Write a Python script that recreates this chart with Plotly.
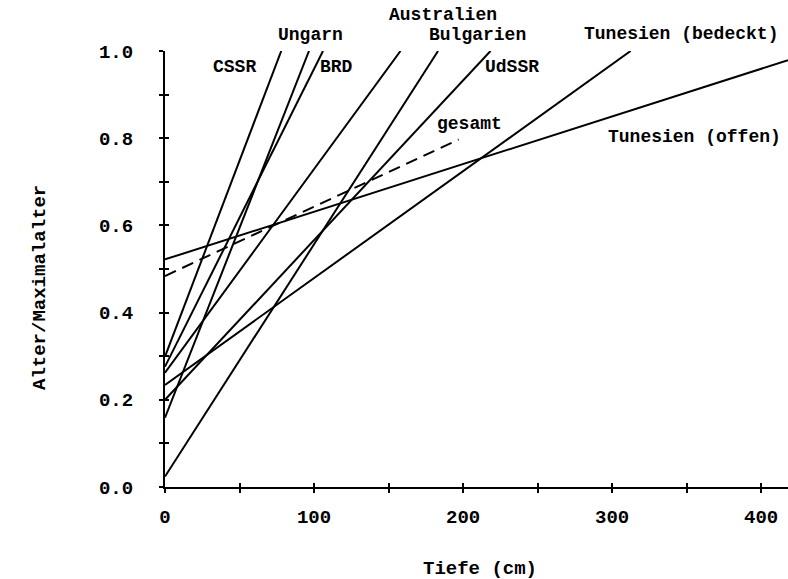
import plotly.graph_objects as go

# ---- data ----
series_names = ["CSSR", "Ungarn", "BRD", "Australien", "Bulgarien", "UdSSR",
                "Tunesien (bedeckt)", "Tunesien (offen)", "gesamt"]
start_depth = [0, 0, 0, 0, 0, 0, 0, 0, 0]
start_value = [0.299, 0.159, 0.276, 0.262, 0.024, 0.200, 0.234, 0.522, 0.484]
end_depth = [78.0, 96.6, 106.0, 158.0, 183.2, 218.4, 312.4, 418.0, 197.0]
end_value = [1.0, 1.0, 1.0, 1.0, 1.0, 1.0, 1.0, 0.979, 0.797]
dashed = [False, False, False, False, False, False, False, False, True]

# label positions (depth, value) for series labels
label_text = ["CSSR", "Ungarn", "BRD", "Australien", "Bulgarien", "UdSSR",
              "Tunesien (bedeckt)", "Tunesien (offen)", "gesamt"]
label_x = [46.3, 97.7, 115.2, 186.3, 209.9, 232.7, 346.5, 355.0, 204.5]
label_y = [0.963, 1.036, 0.963, 1.082, 1.036, 0.963, 1.038, 0.802, 0.832]

x_tickvals = [0, 50, 100, 150, 200, 250, 300, 350, 400]
x_ticktext = ["0", "", "100", "", "200", "", "300", "", "400"]
y_tickvals = [0.0, 0.1, 0.2, 0.3, 0.4, 0.5, 0.6, 0.7, 0.8, 0.9, 1.0]
y_ticktext = ["0.0", "", "0.2", "", "0.4", "", "0.6", "", "0.8", "", "1.0"]

FONT = "Liberation Mono"
X_MAX = 418

fig = go.Figure()
for i, name in enumerate(series_names):
    fig.add_trace(go.Scatter(
        x=[start_depth[i], end_depth[i]],
        y=[start_value[i], end_value[i]],
        mode="lines", name=name, showlegend=False,
        line=dict(color="black", width=2,
                  dash="12px,7px" if dashed[i] else "solid"),
        cliponaxis=False,
    ))

# invisible trace for overlay axes (inside tick marks)
fig.add_trace(go.Scatter(x=[0], y=[0], xaxis="x2", yaxis="y2", mode="markers",
                         marker=dict(opacity=0), showlegend=False, hoverinfo="skip"))

for t, lx, ly in zip(label_text, label_x, label_y):
    fig.add_annotation(x=lx, y=ly, xref="x", yref="paper", text=t, showarrow=False,
                       font=dict(family=FONT, size=18, color="black", weight="bold"),
                       xanchor="center", yanchor="middle")

# axis titles
fig.add_annotation(x=(40 - 165) / 623, y=(487 - 288) / 436, xref="paper", yref="paper",
                   text="Alter/Maximalalter", textangle=-90, showarrow=False,
                   xanchor="center", yanchor="middle",
                   font=dict(family=FONT, size=19, color="black", weight="bold"))
fig.add_annotation(x=(480 - 165) / 623, y=(487 - 569) / 436, xref="paper", yref="paper",
                   text="Tiefe (cm)", showarrow=False,
                   xanchor="center", yanchor="middle",
                   font=dict(family=FONT, size=19, color="black", weight="bold"))

axis_common = dict(showgrid=False, zeroline=False, ticklen=4, tickwidth=2,
                   tickcolor="black")
tick_font = dict(family=FONT, size=19, color="black", weight="bold")

fig.update_layout(
    width=788, height=579,
    margin=dict(l=165, r=0, t=51, b=92),
    paper_bgcolor="white", plot_bgcolor="white",
    font=dict(family=FONT, size=18, color="black"),
    xaxis=dict(range=[0, X_MAX], tickmode="array", tickvals=x_tickvals,
               ticktext=x_ticktext, ticks="outside", showline=True,
               linecolor="black", linewidth=2, ticklabelstandoff=7,
               tickfont=tick_font, **axis_common),
    yaxis=dict(range=[0, 1], tickmode="array", tickvals=y_tickvals,
               ticktext=y_ticktext, ticks="outside", showline=True,
               linecolor="black", linewidth=2, ticklabelstandoff=22,
               tickfont=tick_font, **axis_common),
    xaxis2=dict(range=[0, X_MAX], overlaying="x", anchor="y", side="bottom",
                tickmode="array", tickvals=x_tickvals, ticks="inside",
                showticklabels=False, showline=False, **axis_common),
    yaxis2=dict(range=[0, 1], overlaying="y", anchor="x", side="left",
                tickmode="array", tickvals=y_tickvals, ticks="inside",
                showticklabels=False, showline=False, **axis_common),
)

fig.write_html("out.html")
